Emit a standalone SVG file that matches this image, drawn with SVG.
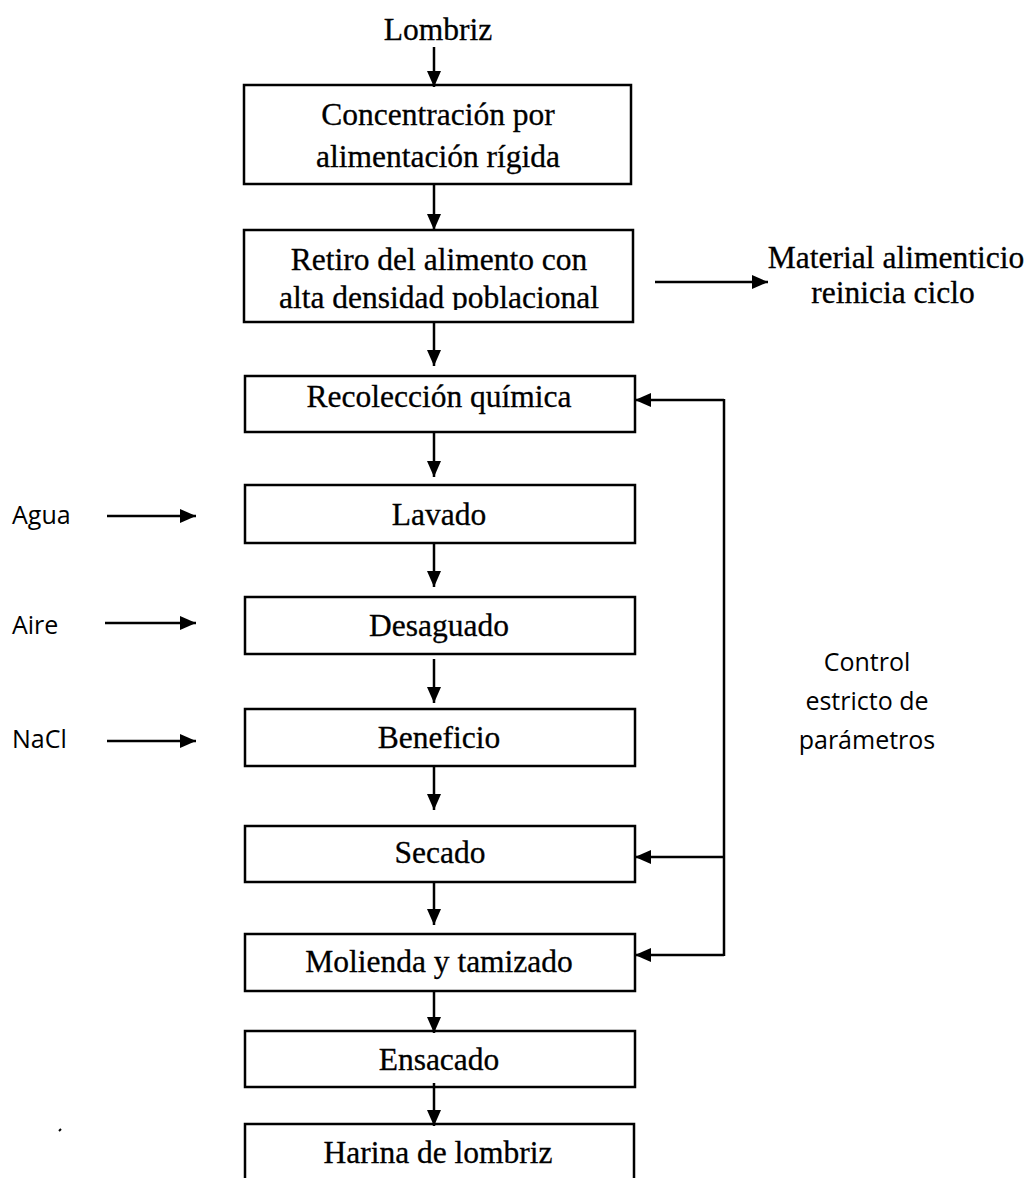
<svg xmlns="http://www.w3.org/2000/svg" width="1027" height="1178" viewBox="0 0 1027 1178">
<style>
.box{fill:#fff;stroke:#000;stroke-width:2.5}
.t{font-family:"Liberation Serif","Times New Roman",serif;font-size:31.5px;fill:#000;stroke:#000;stroke-width:0.3;text-anchor:middle}
.s{font-family:"Open Sans","Liberation Sans",sans-serif;font-size:25px;fill:#000}
.c{text-anchor:middle}
.ln{fill:none;stroke:#000;stroke-width:2.5}
</style>
<defs>
<marker id="ah" viewBox="0 0 16 14" refX="16" refY="7" markerWidth="16" markerHeight="14" markerUnits="userSpaceOnUse" orient="auto">
<path d="M0,0 L16,7 L0,14 Z" fill="#000"/>
</marker>
<clipPath id="clip2"><rect x="243" y="230" width="390" height="80"/></clipPath>
</defs>
<rect width="1027" height="1178" fill="#fff"/>

<g id="lombriz"><text class="t" x="438" y="40">Lombriz</text></g>
<g id="n1"><rect class="box" x="244" y="85" width="387" height="99"/>
<text class="t" x="438" y="125">Concentración por</text>
<text class="t" x="438" y="167">alimentación rígida</text></g>
<g id="n2"><rect class="box" x="244" y="230" width="389" height="92"/>
<text class="t" x="439" y="270">Retiro del alimento con</text>
<g clip-path="url(#clip2)"><text class="t" x="439" y="308">alta densidad poblacional</text></g></g>
<g id="material"><text class="t" x="896" y="268">Material alimenticio</text>
<text class="t" x="893" y="303">reinicia ciclo</text></g>
<g id="n3"><rect class="box" x="245" y="376" width="390" height="56"/>
<text class="t" x="439" y="407">Recolección química</text></g>
<g id="n4"><rect class="box" x="245" y="485" width="390" height="58"/>
<text class="t" x="439" y="525">Lavado</text></g>
<g id="n5"><rect class="box" x="245" y="597" width="390" height="57"/>
<text class="t" x="439" y="636">Desaguado</text></g>
<g id="n6"><rect class="box" x="245" y="709" width="390" height="57"/>
<text class="t" x="439" y="748">Beneficio</text></g>
<g id="n7"><rect class="box" x="245" y="826" width="390" height="56"/>
<text class="t" x="440" y="863">Secado</text></g>
<g id="n8"><rect class="box" x="245" y="934" width="390" height="57"/>
<text class="t" x="439" y="972">Molienda y tamizado</text></g>
<g id="n9"><rect class="box" x="245" y="1031" width="390" height="56"/>
<text class="t" x="439" y="1070">Ensacado</text></g>
<g id="n10"><rect class="box" x="245" y="1124" width="389" height="70"/>
<text class="t" x="438" y="1163">Harina de lombriz</text></g>

<g id="agua"><text class="s" x="12" y="524">Agua</text></g>
<g id="aire"><text class="s" x="12" y="634">Aire</text></g>
<g id="nacl"><text class="s" x="12" y="748">NaCl</text></g>
<g id="control"><text class="s c" x="867" y="671">Control</text>
<text class="s c" x="867" y="710">estricto de</text>
<text class="s c" x="867" y="749">parámetros</text></g>

<g id="connectors">
<line class="ln" x1="434" y1="47" x2="434" y2="87" marker-end="url(#ah)"/>
<line class="ln" x1="434" y1="184" x2="434" y2="230" marker-end="url(#ah)"/>
<line class="ln" x1="434" y1="322" x2="434" y2="366" marker-end="url(#ah)"/>
<line class="ln" x1="434" y1="432" x2="434" y2="477" marker-end="url(#ah)"/>
<line class="ln" x1="434" y1="543" x2="434" y2="587" marker-end="url(#ah)"/>
<line class="ln" x1="434" y1="659" x2="434" y2="703" marker-end="url(#ah)"/>
<line class="ln" x1="434" y1="766" x2="434" y2="810" marker-end="url(#ah)"/>
<line class="ln" x1="434" y1="882" x2="434" y2="925" marker-end="url(#ah)"/>
<line class="ln" x1="434" y1="991" x2="434" y2="1033" marker-end="url(#ah)"/>
<line class="ln" x1="434" y1="1083" x2="434" y2="1126" marker-end="url(#ah)"/>
<line class="ln" x1="655" y1="282" x2="768" y2="282" marker-end="url(#ah)"/>
<line class="ln" x1="107" y1="516" x2="196" y2="516" marker-end="url(#ah)"/>
<line class="ln" x1="105" y1="623" x2="196" y2="623" marker-end="url(#ah)"/>
<line class="ln" x1="107" y1="741" x2="196" y2="741" marker-end="url(#ah)"/>
<polyline class="ln" points="724,399 724,956"/>
<line class="ln" x1="724" y1="400" x2="635" y2="400" marker-end="url(#ah)"/>
<line class="ln" x1="724" y1="857" x2="635" y2="857" marker-end="url(#ah)"/>
<line class="ln" x1="724" y1="955" x2="635" y2="955" marker-end="url(#ah)"/>
</g>
<line x1="59" y1="1131" x2="61" y2="1129" stroke="#000" stroke-width="2"/>
</svg>
